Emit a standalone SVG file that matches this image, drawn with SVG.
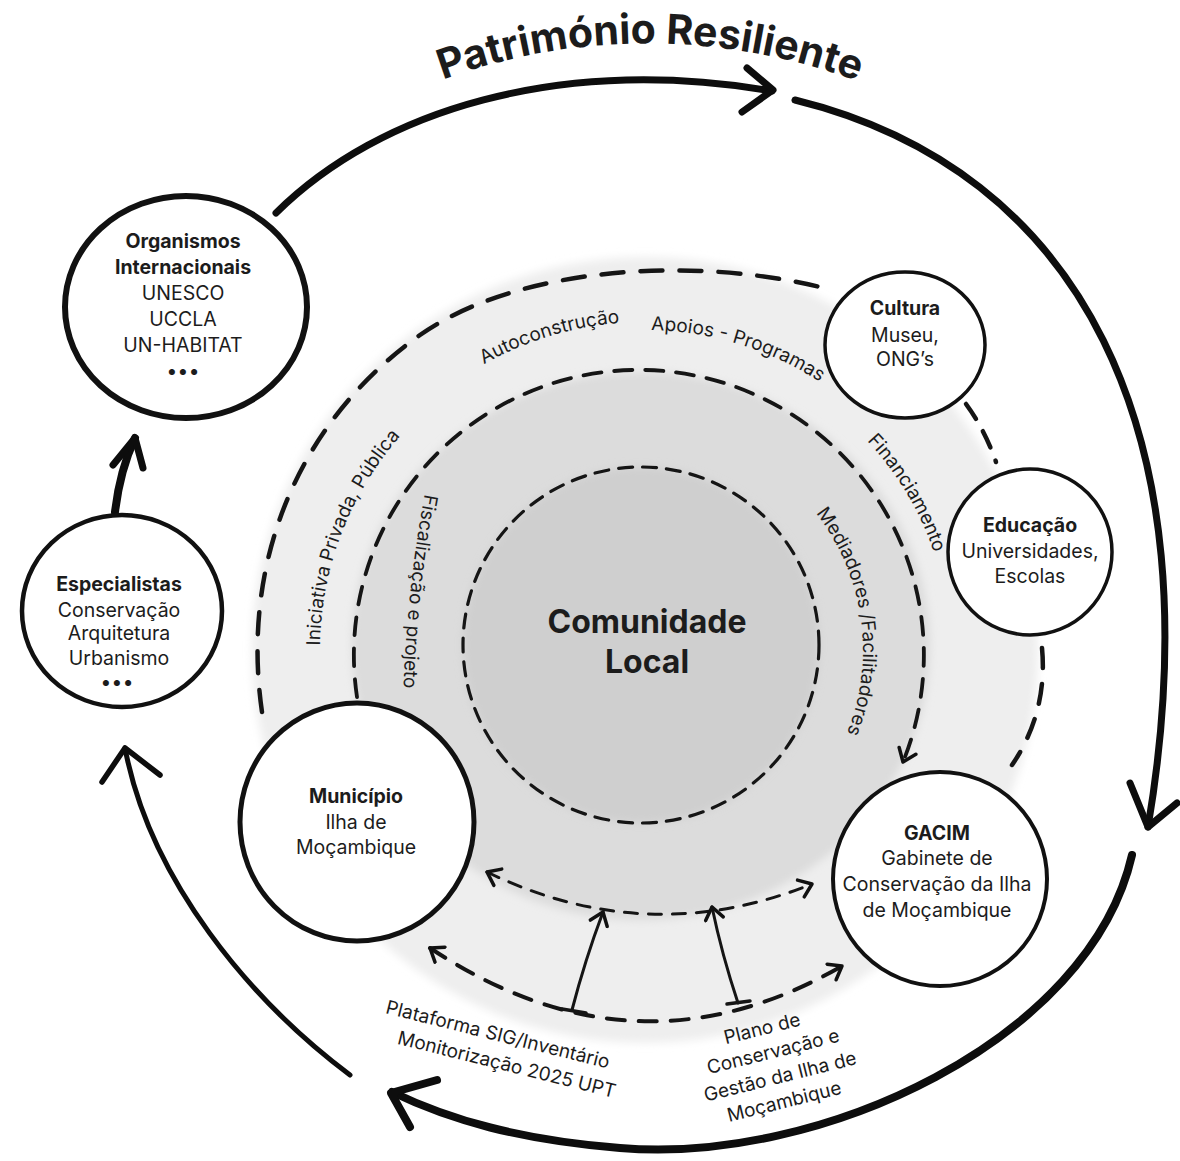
<svg xmlns="http://www.w3.org/2000/svg" width="1180" height="1161" viewBox="0 0 1180 1161">
<defs>
<style>
.node{fill:#fff;stroke:#111;}
text{font-family:Inter,"Liberation Sans",Arial,sans-serif;fill:#1c1c1c;}
.nt{font-size:19.5px;text-anchor:middle;}
.b{font-weight:700;}
.lbl{font-size:19px;}
.big{fill:none;stroke:#0d0d0d;stroke-linecap:round;stroke-linejoin:round;}
.dash{fill:none;stroke:#151515;stroke-linecap:round;}
.thin{fill:none;stroke:#151515;stroke-linecap:round;stroke-linejoin:round;}
</style>
<filter id="soft" x="-10%" y="-10%" width="120%" height="120%"><feGaussianBlur stdDeviation="4"/></filter>
<marker id="chev" viewBox="-14 -12 18 24" markerWidth="18" markerHeight="24" refX="0" refY="0" orient="auto-start-reverse" markerUnits="userSpaceOnUse">
<path d="M-12,-9 L0,0 L-12,9" fill="none" stroke="#111" stroke-width="3.5" stroke-linecap="round" stroke-linejoin="round"/>
</marker>
<path id="pTitle" d="M 400,97 A 600 600 0 0 1 900,99"/>
<path id="pIni" d="M 320,650 A 325 325 0 1 1 970,650 A 325 325 0 1 1 320,650"/>
<path id="pAuto" d="M 317,650 A 328 328 0 1 1 973,650 A 328 328 0 1 1 317,650"/>
<path id="pApo" d="M 325,650 A 320 320 0 1 1 965,650 A 320 320 0 1 1 325,650"/>
<path id="pFin" d="M 340,650 A 305 305 0 1 1 950,650 A 305 305 0 1 1 340,650"/>
<path id="pMed" d="M 419,650 A 222 222 0 1 1 863,650 A 222 222 0 1 1 419,650"/>
<path id="pFis" d="M 426,488 Q 406,590 403,705"/>
</defs>

<g id="background">
<circle cx="645" cy="650" r="393" fill="#eeeeee" filter="url(#soft)"/>
<ellipse cx="641" cy="646" rx="289" ry="274" fill="#dcdcdc" filter="url(#soft)"/>
<circle cx="641" cy="645" r="178" fill="#cfcfcf" filter="url(#soft)"/>
</g>

<g id="rings">
<path class="dash" d="M262,712 C 240,560 300,420 420,335 C 520,265 700,255 832,290" stroke-width="4.5" stroke-dasharray="22 17"/>
<path class="dash" d="M966,404 Q 985,430 996,462" stroke-width="4.5" stroke-dasharray="18 14"/>
<path class="dash" d="M1042,648 C 1046,690 1036,730 1012,765" stroke-width="4.5" stroke-dasharray="20 16"/>
<path class="dash" d="M357,697 A 285 285 0 1 1 903,762" stroke-width="3.8" stroke-dasharray="18 13" marker-end="url(#chev)"/>
<circle class="dash" cx="641" cy="645" r="178" stroke-width="3.2" stroke-dasharray="14 10"/>
</g>

<g id="connectors">
<path class="big" d="M276,213 C 380,110 560,55 772,91" stroke-width="7"/>
<path class="big" d="M747,68 L773,90 L742,112" stroke-width="7"/>
<path class="big" d="M795,100 C 1080,170 1215,430 1148,827" stroke-width="7"/>
<path class="big" d="M1130,783 L1148,827 L1177,803" stroke-width="7"/>
<path class="big" d="M1132,855 C 1090,1040 820,1165 620,1148 C 520,1140 450,1120 392,1092" stroke-width="8"/>
<path class="big" d="M437,1080 L391,1093 L410,1127" stroke-width="8"/>
<path class="big" d="M350,1075 C 250,1000 150,880 125,748" stroke-width="5"/>
<path class="big" d="M102,782 L125,748 L160,775" stroke-width="5.5"/>
<path class="big" d="M115,512 Q 120,470 135,438" stroke-width="8"/>
<path class="big" d="M113,465 L135,438 L143,468" stroke-width="7"/>
<path class="dash" d="M487,872 Q 648,950 812,884" stroke-width="3" stroke-dasharray="13 11" marker-start="url(#chev)" marker-end="url(#chev)"/>
<path class="dash" d="M430,948 Q 636,1085 842,966" stroke-width="4" stroke-dasharray="18 14" marker-start="url(#chev)" marker-end="url(#chev)"/>
<path class="thin" d="M572,1010 Q 585,960 603,912" stroke-width="3" marker-end="url(#chev)"/>
<path class="thin" d="M562,1009 L586,1013" stroke-width="3.5"/>
<path class="thin" d="M738,1003 Q 722,955 712,907" stroke-width="3" marker-end="url(#chev)"/>
<path class="thin" d="M727,1004 L750,1001" stroke-width="3.5"/>
</g>

<g id="ring-labels">
<text class="lbl"><textPath href="#pIni" startOffset="119" text-anchor="middle">Iniciativa Privada, Pública</textPath></text>
<text class="lbl"><textPath href="#pAuto" startOffset="418" text-anchor="middle">Autoconstrução</textPath></text>
<text class="lbl"><textPath href="#pApo" startOffset="598" text-anchor="middle">Apoios - Programas</textPath></text>
<text class="lbl"><textPath href="#pFin" startOffset="793" text-anchor="middle">Financiamento</textPath></text>
<text class="lbl"><textPath href="#pMed" startOffset="666" text-anchor="middle">Mediadores /Facilitadores</textPath></text>
<text class="lbl"><textPath href="#pFis" startOffset="6">Fiscalização e projeto</textPath></text>
<text class="lbl" text-anchor="middle" transform="translate(498,1034) rotate(14)" y="7">Plataforma SIG/Inventário</text>
<text class="lbl" text-anchor="middle" transform="translate(507,1064) rotate(14)" y="7">Monitorização 2025 UPT</text>
<text class="lbl" text-anchor="middle" transform="translate(762,1028) rotate(-14)" y="7">Plano de</text>
<text class="lbl" text-anchor="middle" transform="translate(773,1051) rotate(-14)" y="7">Conservação e</text>
<text class="lbl" text-anchor="middle" transform="translate(780,1076) rotate(-14)" y="7">Gestão da Ilha de</text>
<text class="lbl" text-anchor="middle" transform="translate(784,1101) rotate(-14)" y="7">Moçambique</text>
</g>

<g id="title">
<text font-size="41" font-weight="700" fill="#1a1a1a"><textPath href="#pTitle" startOffset="50%" text-anchor="middle">Património Resiliente</textPath></text>
</g>

<g id="comunidade">
<text x="647" y="633" font-size="32" font-weight="700" text-anchor="middle">Comunidade</text>
<text x="647" y="673" font-size="32" font-weight="700" text-anchor="middle">Local</text>
</g>

<g id="organismos">
<ellipse class="node" cx="186" cy="307" rx="121" ry="111" stroke-width="6"/>
<text class="nt b" x="183" y="248">Organismos</text>
<text class="nt b" x="183" y="274">Internacionais</text>
<text class="nt" x="183" y="300">UNESCO</text>
<text class="nt" x="183" y="326">UCCLA</text>
<text class="nt" x="183" y="352">UN-HABITAT</text>
<text class="nt b" x="184" y="378" letter-spacing="2">•••</text>
</g>

<g id="especialistas">
<ellipse class="node" cx="122" cy="611" rx="100" ry="96" stroke-width="4.5"/>
<text class="nt b" x="119" y="591">Especialistas</text>
<text class="nt" x="119" y="617">Conservação</text>
<text class="nt" x="119" y="640">Arquitetura</text>
<text class="nt" x="119" y="665">Urbanismo</text>
<text class="nt b" x="118" y="689" letter-spacing="2">•••</text>
</g>

<g id="cultura">
<ellipse class="node" cx="905" cy="345" rx="80" ry="73" stroke-width="3.5"/>
<text class="nt b" x="905" y="315">Cultura</text>
<text class="nt" x="905" y="342">Museu,</text>
<text class="nt" x="905" y="366">ONG’s</text>
</g>

<g id="educacao">
<ellipse class="node" cx="1030" cy="552" rx="82" ry="83" stroke-width="3.5"/>
<text class="nt b" x="1030" y="532">Educação</text>
<text class="nt" x="1030" y="558">Universidades,</text>
<text class="nt" x="1030" y="583">Escolas</text>
</g>

<g id="municipio">
<ellipse class="node" cx="357" cy="822" rx="117" ry="119" stroke-width="5"/>
<text class="nt b" x="356" y="803">Município</text>
<text class="nt" x="356" y="829">Ilha de</text>
<text class="nt" x="356" y="854">Moçambique</text>
</g>

<g id="gacim">
<ellipse class="node" cx="940" cy="879" rx="107" ry="107" stroke-width="4"/>
<text class="nt b" x="937" y="840">GACIM</text>
<text class="nt" x="937" y="865">Gabinete de</text>
<text class="nt" x="937" y="891">Conservação da Ilha</text>
<text class="nt" x="937" y="917">de Moçambique</text>
</g>
</svg>
